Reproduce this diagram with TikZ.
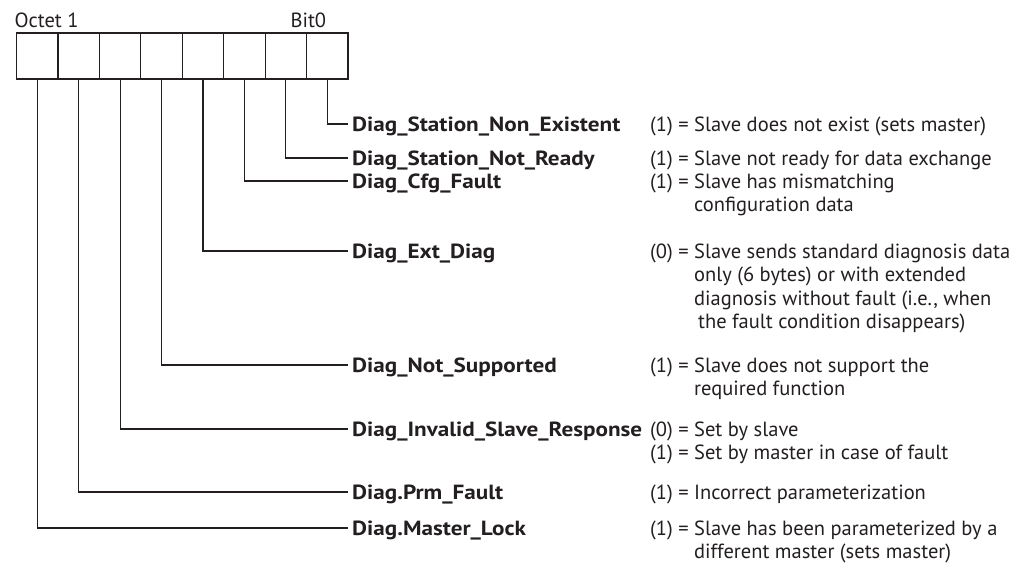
\documentclass[tikz,border=0pt]{standalone}
\usepackage{fontspec}
\setmainfont{PT Sans}[BoldFeatures={FakeStretch=1.13}]
\definecolor{ink}{HTML}{231F20}
\newcommand{\bodysize}{\fontsize{20.5}{23.3}\selectfont}
\newcommand{\vals}[1]{\begin{tabular}[t]{@{}l@{\ }l@{\ }l@{}}#1\end{tabular}}
\tikzset{
  cell/.style={draw=ink, line width=1.2pt, minimum width=41.44pt, minimum height=46pt, inner sep=0pt, outer sep=0pt},
  field/.style={anchor=west, font=\bodysize\bfseries, inner xsep=4pt, inner ysep=0pt, text height=15pt, text depth=0pt},
  meaning/.style={anchor=base west, font=\bodysize, inner sep=0pt, align=left},
  lead/.style={draw=ink, line width=1.2pt},
}
\begin{document}
\begin{tikzpicture}[x=1pt,y=-1pt,text=ink]
\useasboundingbox (0,0) rectangle (1032,567);
% Octet cells, bit 7 on the left
\foreach \b in {0,...,7}
  \node[cell] (b\b) at ({37.22+41.44*(7-\b)},56) {};
\node[anchor=base west, font=\bodysize] (octet) at (11,28) {Octet 1};
\node[anchor=base west, font=\bodysize] (bitzero) at (287,28) {Bit0};

% Field names, leads and values
\foreach \b/\y/\name/\desc in {
  0/124/Diag\_Station\_Non\_Existent/{(1) & = & Slave does not exist (sets master)},
  1/158/Diag\_Station\_Not\_Ready/{(1) & = & Slave not ready for data exchange},
  2/181/Diag\_Cfg\_Fault/{(1) & = & Slave has mismatching\\ & & configuration data},
  3/251/Diag\_Ext\_Diag/{(0) & = & Slave sends standard diagnosis data\\ & & only (6 bytes) or with extended\\ & & diagnosis without fault (i.e., when\\ & & \hspace{4pt}the fault condition disappears)},
  4/365/Diag\_Not\_Supported/{(1) & = & Slave does not support the\\ & & required function},
  5/429/Diag\_Invalid\_Slave\_Response/{(0) & = & Set by slave\\ (1) & = & Set by master in case of fault},
  6/492/Diag.Prm\_Fault/{(1) & = & Incorrect parameterization},
  7/528/Diag.Master\_Lock/{(1) & = & Slave has been parameterized by a\\ & & different master (sets master)}} {
  \node[field] (f\b) at (348,\y) {\name};
  \node[meaning] (d\b) at (650,\y+7.5) {\vals{\desc}};
  \draw[lead] (b\b.south) |- (f\b.west);
}
\end{tikzpicture}
\end{document}
